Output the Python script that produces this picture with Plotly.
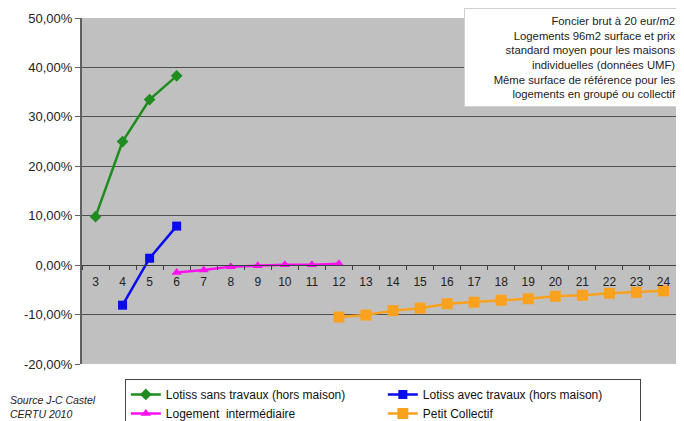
import plotly.graph_objects as go

categories = [str(i) for i in range(3, 25)]

green_x = ["3", "4", "5", "6"]
green_y = [9.8, 25.0, 33.5, 38.3]

blue_x = ["4", "5", "6"]
blue_y = [-8.1, 1.4, 7.9]

magenta_x = ["6", "7", "8", "9", "10", "11", "12"]
magenta_y = [-1.5, -1.0, -0.3, -0.1, 0.1, 0.1, 0.3]

orange_x = [str(i) for i in range(12, 25)]
orange_y = [-10.5, -10.1, -9.2, -8.7, -7.8, -7.5, -7.1, -6.8, -6.3, -6.1, -5.7, -5.5, -5.2]

y_ticks = [-20, -10, 0, 10, 20, 30, 40, 50]
y_ticktext = ["-20,00%", "-10,00%", "0,00%", "10,00%", "20,00%", "30,00%", "40,00%", "50,00%"]

names = ["Lotiss sans travaux (hors maison)", "Lotiss avec travaux (hors maison)",
         "Logement  intermédiaire", "Petit Collectif"]

FONT = "Liberation Sans, Arial, sans-serif"

fig = go.Figure()
fig.add_trace(go.Scatter(x=green_x, y=green_y, name=names[0], mode="lines+markers",
                         line=dict(color="#1E8C1E", width=2.5),
                         marker=dict(symbol="diamond", size=9, color="#1E8C1E")))
fig.add_trace(go.Scatter(x=blue_x, y=blue_y, name=names[1], mode="lines+markers",
                         line=dict(color="#0A0AF0", width=2.5),
                         marker=dict(symbol="square", size=9, color="#0A0AF0")))
fig.add_trace(go.Scatter(x=magenta_x, y=magenta_y, name=names[2], mode="lines+markers",
                         line=dict(color="#FF10F0", width=2.5),
                         marker=dict(symbol="triangle-up", size=9, color="#FF10F0")))
fig.add_trace(go.Scatter(x=orange_x, y=orange_y, name=names[3], mode="lines+markers",
                         line=dict(color="#FAA11E", width=2.5),
                         marker=dict(symbol="square", size=11, color="#FAA11E")))

fig.update_layout(
    width=676, height=413,
    margin=dict(l=74, r=7, t=10, b=57, autoexpand=False),
    paper_bgcolor="white",
    plot_bgcolor="#C0C0C0",
    font=dict(family=FONT, color="#222222"),
    showlegend=True,
    hovermode=False,
    legend=dict(
        orientation="h", x=0.072, y=-0.043, xanchor="left", yanchor="top",
        entrywidth=212, entrywidthmode="pixels",
        bordercolor="#444444", borderwidth=1, bgcolor="white",
        font=dict(size=12, family=FONT, color="#111111"),
        tracegroupgap=0, itemwidth=30,
    ),
    xaxis=dict(
        type="category", categoryorder="array", categoryarray=categories,
        range=[-0.5, 21.5], anchor="free", position=2 / 7,
        showline=True, linecolor="#404040", linewidth=1,
        ticks="outside", ticklen=4, tickcolor="#404040", tickson="boundaries",
        ticklabelstandoff=5,
        showgrid=False, tickfont=dict(size=12, color="#222222"), fixedrange=True,
    ),
    yaxis=dict(
        range=[-20, 50], tickvals=y_ticks, ticktext=y_ticktext,
        showgrid=True, gridcolor="#505050", gridwidth=1, zeroline=False,
        showline=True, linecolor="#606060", linewidth=2,
        ticks="outside", ticklen=5, tickcolor="#606060",
        tickfont=dict(size=13, color="#222222"), fixedrange=True,
    ),
    shapes=[dict(type="line", xref="paper", yref="paper", x0=1, x1=1, y0=0, y1=1,
                 line=dict(color="#8A8A8A", width=1))],
    annotations=[
        dict(xref="paper", yref="paper", x=1.0105, y=1.029, xanchor="right", yanchor="top",
             align="right", showarrow=False, width=205,
             text="Foncier brut à 20 eur/m2<br>Logements 96m2 surface et prix<br>standard moyen pour les maisons<br>individuelles (données UMF)<br>Même surface de référence pour les<br>logements en groupé ou collectif",
             font=dict(size=11.3, family=FONT, color="#222222"),
             bgcolor="white", bordercolor="#D0D0D0", borderwidth=1, borderpad=6),
        dict(x="24", y=2.6, xref="x", yref="y", xanchor="right", yanchor="middle",
             text="Nombre de logements", showarrow=False, xshift=6,
             font=dict(size=11.5, family=FONT, color="#222222")),
        dict(xref="paper", yref="paper", x=-0.1244, y=-0.081, xanchor="left", yanchor="top",
             align="left", showarrow=False,
             text="<i>Source J-C Castel<br>CERTU 2010</i>",
             font=dict(size=10.5, family=FONT, color="#222222")),
    ],
)

fig.write_html("out.html")
